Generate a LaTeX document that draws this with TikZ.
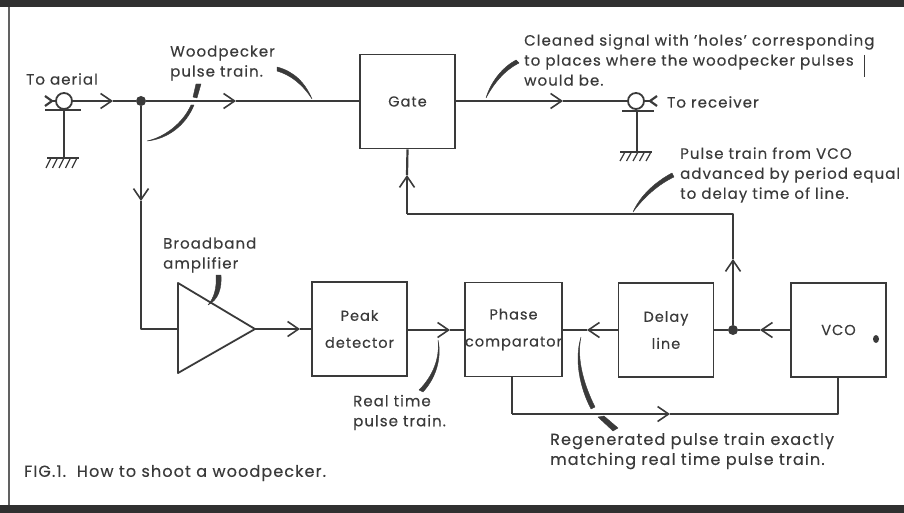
\documentclass[tikz,border=0pt]{standalone}
\usepackage{fontspec}
\setmainfont{Poppins}[LetterSpace=7,FakeBold=0.35]
\usetikzlibrary{arrows.meta,positioning}
\definecolor{inkgrey}{HTML}{3A3A3A}
\definecolor{bandgrey}{HTML}{303030}
\tikzset{
	sigline/.style={draw=inkgrey,line width=2.2pt,line join=round},
	sigarrow/.style={sigline,-{Straight Barb[length=11pt,width=15pt,line width=1.6pt]}},
	blockbox/.style={draw=inkgrey,line width=1.8pt,minimum width=95pt,minimum height=94pt,inner sep=0pt,align=center,text=inkgrey,font=\fontsize{14.5}{27}\selectfont},
	labeltext/.style={anchor=west,align=left,inner sep=0pt,text=inkgrey,font=\fontsize{15}{20}\selectfont},
	jointdot/.style={circle,fill=inkgrey,inner sep=0pt,minimum size=10pt},
	plug/.style={circle,draw=inkgrey,line width=1.8pt,inner sep=0pt,minimum size=16pt},
	leader/.style={fill=inkgrey,draw=inkgrey,line width=0.4pt,line join=round}
}
\begin{document}
\begin{tikzpicture}[x=1pt,y=-1pt]
	\useasboundingbox (0,0) rectangle (904,513);
	
	% frame
	\fill[bandgrey] (0,0) rectangle (904,7);
	\fill[bandgrey] (0,505) rectangle (904,513);
	\draw[draw=inkgrey!80,line width=1.8pt] (9,7)--(9,505);
	
	% blocks
	\node[blockbox] (gate) at (407.5,101.5) {Gate};
	\node[blockbox] (peak) at (359.5,329) {Peak\\detector};
	\node[blockbox] (phase) at (513.5,329.5) {Phase\\comparator};
	\node[blockbox] (delay) at (666,330) {Delay\\line};
	\node[blockbox] (vco) at (838.5,330) {VCO};
	\coordinate (ampa) at (178,283);
	\coordinate (ampb) at (178,373);
	\coordinate (ampout) at (255,329);
	\coordinate (ampin) at (178,329);
	\draw[sigline,line width=1.8pt] (ampa)--(ampout)--(ampb)--cycle;
	\fill[inkgrey] (876,339) ellipse (3pt and 4pt);
	
	% sockets
	\node[plug] (aerial) at (64,101) {};
	\node[plug] (receiver) at (636,101) {};
	\coordinate (aerialbar) at (64,110);
	\coordinate (aerialgnd) at (64,158);
	\coordinate (recvbar) at (637,111);
	\coordinate (recvgnd) at (637,152);
	\coordinate (aerialtip) at (52,101);
	\coordinate (recvtip) at (650,101);
	\draw[sigline] (45,110)--(81,110);
	\draw[sigline] (aerialbar)--(aerialgnd);
	\draw[sigline] (47,158)--(79,158);
	\draw[sigline] (622,111)--(654,111);
	\draw[sigline] (recvbar)--(recvgnd);
	\draw[sigline] (620,152)--(652,152);
	\foreach \i in {0,...,4} {
		\draw[inkgrey,line width=1.2pt] (51+6.5*\i,158)--(46+6.5*\i,168);
		\draw[inkgrey,line width=1.2pt] (625+6.5*\i,152)--(620+6.5*\i,161);
	}
	\draw[sigline] (45,96)--(aerialtip)--(45,106);
	\draw[sigline] (aerialtip)--(aerial);
	\draw[sigline] (657,96)--(recvtip)--(657,106);
	\draw[sigline] (recvtip)--(receiver);
	
	% signal paths
	\node[jointdot] (split) at (141,101) {};
	\node[jointdot] (vcosplit) at (733,330) {};
	\coordinate (tipa) at (113,101);
	\coordinate (tipb) at (236,101);
	\coordinate (tipc) at (141,201);
	\coordinate (turna) at (141,329);
	\coordinate (tipd) at (300,329);
	\coordinate (tipe) at (450,330);
	\coordinate (tipf) at (587,330);
	\coordinate (tipg) at (760,330);
	\coordinate (tiph) at (733,259);
	\coordinate (turnb) at (733,214);
	\coordinate (turnc) at (407,214);
	\coordinate (tipi) at (407,175);
	\coordinate (tipj) at (563,101);
	\coordinate (turnd) at (512,414);
	\coordinate (turne) at (838,414);
	\coordinate (tipk) at (670,414);
	
	\draw[sigarrow] (aerial)--(tipa);
	\draw[sigline] (tipa)--(split);
	\draw[sigarrow] (split)--(tipb);
	\draw[sigline] (tipb)--(gate.west |- tipb);
	\draw[sigarrow] (split)--(tipc);
	\draw[sigline] (tipc)--(turna)--(ampin);
	\draw[sigarrow] (ampout)--(tipd);
	\draw[sigline] (tipd)--(peak.west |- tipd);
	\draw[sigarrow] (peak.east |- tipe)--(tipe);
	\draw[sigline] (tipe)--(phase.west |- tipe);
	\draw[sigarrow] (delay.west |- tipf)--(tipf);
	\draw[sigline] (tipf)--(phase.east |- tipf);
	\draw[sigarrow] (vco.west |- tipg)--(tipg);
	\draw[sigline] (tipg)--(vcosplit)--(delay.east |- vcosplit);
	\draw[sigarrow] (vcosplit)--(tiph);
	\draw[sigline] (tiph)--(turnb)--(turnc);
	\draw[sigarrow] (turnc)--(tipi);
	\draw[sigline] (tipi)--(gate.south);
	\draw[sigarrow] (gate.east |- tipj)--(tipj);
	\draw[sigline] (tipj)--(receiver);
	\draw[sigarrow] (turnd)--(tipk);
	\draw[sigline] (phase.south -| turnd)--(turnd);
	\draw[sigline] (tipk)--(turne)--(vco.south -| turne);
	
	% labels
	\node[labeltext] (toaerial) at (26,79) {To aerial};
	\node[labeltext] (woodlabel) at (170,63) {Woodpecker\\pulse train.};
	\node[labeltext] (bandlabel) at (163,255) {Broadband\\amplifier};
	\node[labeltext] (cleanlabel) at (524,60) {Cleaned signal with 'holes' corresponding\\to places where the woodpecker pulses\\would be.};
	\node[labeltext] (torecv) at (667,102) {To receiver};
	\node[labeltext] (vcolabel) at (680,175) {Pulse train from VCO\\advanced by period equal\\to delay time of line.};
	\node[labeltext] (reallabel) at (353,412.5) {Real time\\pulse train.};
	\node[labeltext,font=\fontsize{16}{20}\selectfont] (regenlabel) at (550,451) {Regenerated pulse train exactly\\matching real time pulse train.};
	\node[labeltext,font=\fontsize{16}{20}\selectfont] (figlabel) at (24,473) {FIG.1.\ \ How to shoot a woodpecker.};
	\draw[inkgrey,line width=1pt] (864,55)--(864,77);
	
	% leader strokes
	\fill[leader] (277,67) .. controls (293,71) and (305,82) .. (312,99) .. controls (303,85) and (291,75) .. (277,71) -- cycle;
	\fill[leader] (147,141) .. controls (165,137) and (183,123) .. (191,105) -- (194,105) .. controls (186,125) and (168,139) .. (147,141) -- cycle;
	\fill[leader] (193,97) -- (196,84) -- (201,84) -- (197,98) -- cycle;
	\fill[leader] (486,98) .. controls (491,81) and (503,67) .. (516,60) -- (519,63) .. controls (505,70) and (494,83) .. (486,98) -- cycle;
	\fill[leader] (633,212) .. controls (640,196) and (655,182) .. (672,173) -- (674,177) .. controls (659,184) and (644,197) .. (633,212) -- cycle;
	\fill[leader] (208,305) .. controls (214,298) and (217,288) .. (216,275) -- (221,275) .. controls (222,289) and (218,300) .. (208,305) -- cycle;
	\fill[leader] (438,340) .. controls (440,358) and (433,376) .. (419,390) -- (423,392) .. controls (436,378) and (442,358) .. (438,340) -- cycle;
	\fill[leader] (581,337) .. controls (574,360) and (580,388) .. (591,409) -- (595,407) .. controls (585,387) and (576,360) .. (581,337) -- cycle;
	\fill[leader] (598,417) -- (613,431) -- (618,428) -- (604,416) -- cycle;
	
\end{tikzpicture}
\end{document}
